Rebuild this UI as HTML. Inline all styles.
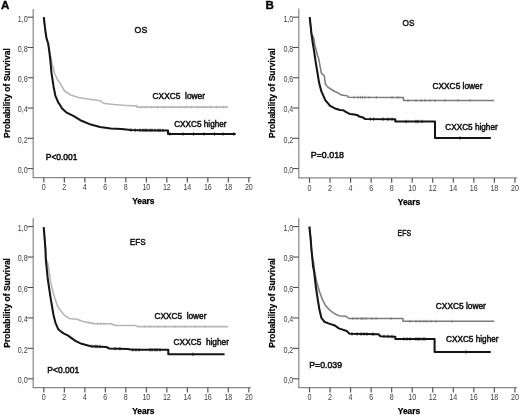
<!DOCTYPE html>
<html><head><meta charset="utf-8"><style>
html,body{margin:0;padding:0;background:#fff;}
svg{display:block;filter:grayscale(1);}
text{font-family:"Liberation Sans", sans-serif;}
.tl{font-size:8.4px;fill:#404040;}
.yr{font-size:8.4px;font-weight:bold;fill:#000;stroke:#000;stroke-width:0.25px;}
.yl{font-size:8.5px;font-weight:bold;fill:#000;stroke:#000;stroke-width:0.2px;}
.an{font-size:9.1px;fill:#111;stroke:#111;stroke-width:0.5px;white-space:pre;}
.ti{font-size:9.7px;}
.pl{font-size:11.6px;font-weight:bold;fill:#000;stroke:#000;stroke-width:0.35px;}
</style></head><body>
<svg width="520" height="415" viewBox="0 0 520 415">
<rect width="520" height="415" fill="#fff"/>
<text x="1.0" y="9.1" class="pl">A</text>
<text x="265.6" y="9.1" class="pl">B</text>
<line x1="33.2" y1="9.0" x2="33.2" y2="177.5" stroke="#8a8a8a" stroke-width="1.25"/>
<line x1="32.6" y1="177.5" x2="251" y2="177.5" stroke="#8a8a8a" stroke-width="1.25"/>
<line x1="27.400000000000002" y1="168.60" x2="33.2" y2="168.60" stroke="#505050" stroke-width="1.1"/>
<text x="27.70" y="173.00" text-anchor="end" class="tl" textLength="9.92" lengthAdjust="spacingAndGlyphs">0,0</text>
<line x1="27.400000000000002" y1="138.32" x2="33.2" y2="138.32" stroke="#505050" stroke-width="1.1"/>
<text x="27.70" y="142.72" text-anchor="end" class="tl" textLength="9.92" lengthAdjust="spacingAndGlyphs">0,2</text>
<line x1="27.400000000000002" y1="108.04" x2="33.2" y2="108.04" stroke="#505050" stroke-width="1.1"/>
<text x="27.70" y="112.44" text-anchor="end" class="tl" textLength="9.92" lengthAdjust="spacingAndGlyphs">0,4</text>
<line x1="27.400000000000002" y1="77.76" x2="33.2" y2="77.76" stroke="#505050" stroke-width="1.1"/>
<text x="27.70" y="82.16" text-anchor="end" class="tl" textLength="9.92" lengthAdjust="spacingAndGlyphs">0,6</text>
<line x1="27.400000000000002" y1="47.48" x2="33.2" y2="47.48" stroke="#505050" stroke-width="1.1"/>
<text x="27.70" y="51.88" text-anchor="end" class="tl" textLength="9.92" lengthAdjust="spacingAndGlyphs">0,8</text>
<line x1="27.400000000000002" y1="17.20" x2="33.2" y2="17.20" stroke="#505050" stroke-width="1.1"/>
<text x="27.70" y="21.60" text-anchor="end" class="tl" textLength="9.92" lengthAdjust="spacingAndGlyphs">1,0</text>
<line x1="43.85" y1="177.5" x2="43.85" y2="182.4" stroke="#505050" stroke-width="1.15"/>
<text x="43.85" y="190.10" text-anchor="middle" class="tl" textLength="3.97" lengthAdjust="spacingAndGlyphs">0</text>
<line x1="64.35" y1="177.5" x2="64.35" y2="182.4" stroke="#505050" stroke-width="1.15"/>
<text x="64.35" y="190.10" text-anchor="middle" class="tl" textLength="3.97" lengthAdjust="spacingAndGlyphs">2</text>
<line x1="84.85" y1="177.5" x2="84.85" y2="182.4" stroke="#505050" stroke-width="1.15"/>
<text x="84.85" y="190.10" text-anchor="middle" class="tl" textLength="3.97" lengthAdjust="spacingAndGlyphs">4</text>
<line x1="105.35" y1="177.5" x2="105.35" y2="182.4" stroke="#505050" stroke-width="1.15"/>
<text x="105.35" y="190.10" text-anchor="middle" class="tl" textLength="3.97" lengthAdjust="spacingAndGlyphs">6</text>
<line x1="125.85" y1="177.5" x2="125.85" y2="182.4" stroke="#505050" stroke-width="1.15"/>
<text x="125.85" y="190.10" text-anchor="middle" class="tl" textLength="3.97" lengthAdjust="spacingAndGlyphs">8</text>
<line x1="146.35" y1="177.5" x2="146.35" y2="182.4" stroke="#505050" stroke-width="1.15"/>
<text x="146.35" y="190.10" text-anchor="middle" class="tl" textLength="7.94" lengthAdjust="spacingAndGlyphs">10</text>
<line x1="166.85" y1="177.5" x2="166.85" y2="182.4" stroke="#505050" stroke-width="1.15"/>
<text x="166.85" y="190.10" text-anchor="middle" class="tl" textLength="7.94" lengthAdjust="spacingAndGlyphs">12</text>
<line x1="187.35" y1="177.5" x2="187.35" y2="182.4" stroke="#505050" stroke-width="1.15"/>
<text x="187.35" y="190.10" text-anchor="middle" class="tl" textLength="7.94" lengthAdjust="spacingAndGlyphs">14</text>
<line x1="207.85" y1="177.5" x2="207.85" y2="182.4" stroke="#505050" stroke-width="1.15"/>
<text x="207.85" y="190.10" text-anchor="middle" class="tl" textLength="7.94" lengthAdjust="spacingAndGlyphs">16</text>
<line x1="228.35" y1="177.5" x2="228.35" y2="182.4" stroke="#505050" stroke-width="1.15"/>
<text x="228.35" y="190.10" text-anchor="middle" class="tl" textLength="7.94" lengthAdjust="spacingAndGlyphs">18</text>
<line x1="248.85" y1="177.5" x2="248.85" y2="182.4" stroke="#505050" stroke-width="1.15"/>
<text x="248.85" y="190.10" text-anchor="middle" class="tl" textLength="7.94" lengthAdjust="spacingAndGlyphs">20</text>
<text x="132.15" y="204.00" class="yr">Years</text>
<text transform="translate(9.60,93.10) rotate(-90)" text-anchor="middle" class="yl">Probability of Survival</text>
<polyline points="43.80,17.20 44.60,24.50 45.50,31.70 46.40,37.70 48.20,43.70 49.10,49.80 50.60,56.40 52.50,65.00 54.40,72.80 57.30,79.50 60.00,83.10 64.60,91.00 70.80,95.00 78.50,97.50 87.70,99.00 100.00,100.80 104.60,103.60 113.80,104.60 126.20,105.40 137.00,105.90 137.00,107.10 228.00,107.10" fill="none" stroke="#b6b6b6" stroke-width="1.55" stroke-linejoin="round"/>
<polyline points="43.80,17.20 44.60,24.50 45.50,31.70 46.40,37.70 48.20,43.70 49.10,49.80 50.00,57.00 51.50,72.80 53.50,86.20 55.40,95.90 58.30,102.50 60.00,104.90 62.10,108.50 66.20,112.30 73.80,116.20 81.50,120.80 90.80,124.60 100.00,126.90 110.80,128.50 121.50,128.90 130.80,130.00 140.00,130.20 168.00,130.50 168.00,134.00 235.70,134.00" fill="none" stroke="#151515" stroke-width="2.05" stroke-linejoin="round"/>
<line x1="136.3" y1="104.37" x2="136.3" y2="107.37" stroke="#b6b6b6" stroke-width="0.8"/>
<line x1="141.6" y1="105.60" x2="141.6" y2="108.60" stroke="#b6b6b6" stroke-width="0.8"/>
<line x1="145.9" y1="105.60" x2="145.9" y2="108.60" stroke="#b6b6b6" stroke-width="0.8"/>
<line x1="151.2" y1="105.60" x2="151.2" y2="108.60" stroke="#b6b6b6" stroke-width="0.8"/>
<line x1="157.5" y1="105.60" x2="157.5" y2="108.60" stroke="#b6b6b6" stroke-width="0.8"/>
<line x1="164.9" y1="105.60" x2="164.9" y2="108.60" stroke="#b6b6b6" stroke-width="0.8"/>
<line x1="172.3" y1="105.60" x2="172.3" y2="108.60" stroke="#b6b6b6" stroke-width="0.8"/>
<line x1="179.7" y1="105.60" x2="179.7" y2="108.60" stroke="#b6b6b6" stroke-width="0.8"/>
<line x1="186" y1="105.60" x2="186" y2="108.60" stroke="#b6b6b6" stroke-width="0.8"/>
<line x1="191.4" y1="105.60" x2="191.4" y2="108.60" stroke="#b6b6b6" stroke-width="0.8"/>
<line x1="197.7" y1="105.60" x2="197.7" y2="108.60" stroke="#b6b6b6" stroke-width="0.8"/>
<line x1="204" y1="105.60" x2="204" y2="108.60" stroke="#b6b6b6" stroke-width="0.8"/>
<line x1="210.4" y1="105.60" x2="210.4" y2="108.60" stroke="#b6b6b6" stroke-width="0.8"/>
<line x1="216.7" y1="105.60" x2="216.7" y2="108.60" stroke="#b6b6b6" stroke-width="0.8"/>
<line x1="223" y1="105.60" x2="223" y2="108.60" stroke="#b6b6b6" stroke-width="0.8"/>
<line x1="131" y1="128.30" x2="131" y2="131.70" stroke="#151515" stroke-width="0.8"/>
<line x1="135" y1="128.39" x2="135" y2="131.79" stroke="#151515" stroke-width="0.8"/>
<line x1="140" y1="128.50" x2="140" y2="131.90" stroke="#151515" stroke-width="0.8"/>
<line x1="143" y1="128.53" x2="143" y2="131.93" stroke="#151515" stroke-width="0.8"/>
<line x1="145" y1="128.55" x2="145" y2="131.95" stroke="#151515" stroke-width="0.8"/>
<line x1="147" y1="128.57" x2="147" y2="131.97" stroke="#151515" stroke-width="0.8"/>
<line x1="150" y1="128.61" x2="150" y2="132.01" stroke="#151515" stroke-width="0.8"/>
<line x1="152" y1="128.63" x2="152" y2="132.03" stroke="#151515" stroke-width="0.8"/>
<line x1="155" y1="128.66" x2="155" y2="132.06" stroke="#151515" stroke-width="0.8"/>
<line x1="158" y1="128.69" x2="158" y2="132.09" stroke="#151515" stroke-width="0.8"/>
<line x1="160" y1="128.71" x2="160" y2="132.11" stroke="#151515" stroke-width="0.8"/>
<line x1="163" y1="128.75" x2="163" y2="132.15" stroke="#151515" stroke-width="0.8"/>
<line x1="170" y1="132.30" x2="170" y2="135.70" stroke="#151515" stroke-width="0.8"/>
<line x1="183" y1="132.30" x2="183" y2="135.70" stroke="#151515" stroke-width="0.8"/>
<line x1="193.5" y1="132.30" x2="193.5" y2="135.70" stroke="#151515" stroke-width="0.8"/>
<line x1="204" y1="132.30" x2="204" y2="135.70" stroke="#151515" stroke-width="0.8"/>
<line x1="214.6" y1="132.30" x2="214.6" y2="135.70" stroke="#151515" stroke-width="0.8"/>
<line x1="223" y1="132.30" x2="223" y2="135.70" stroke="#151515" stroke-width="0.8"/>
<line x1="233.7" y1="132.30" x2="233.7" y2="135.70" stroke="#151515" stroke-width="0.8"/>
<text x="134.6" y="32.8" class="an ti" textLength="12.6" lengthAdjust="spacingAndGlyphs">OS</text>
<text x="152.6" y="98.8" class="an" textLength="52.4" lengthAdjust="spacingAndGlyphs">CXXC5  lower</text>
<text x="174.2" y="126.5" class="an" textLength="52.4" lengthAdjust="spacingAndGlyphs">CXXC5 higher</text>
<text x="45.8" y="160.2" class="an" textLength="31.6" lengthAdjust="spacingAndGlyphs">P&lt;0.001</text>
<line x1="298.8" y1="8.4" x2="298.8" y2="177.9" stroke="#8a8a8a" stroke-width="1.25"/>
<line x1="298.2" y1="177.9" x2="517" y2="177.9" stroke="#8a8a8a" stroke-width="1.25"/>
<line x1="293.0" y1="168.60" x2="298.8" y2="168.60" stroke="#505050" stroke-width="1.1"/>
<text x="293.30" y="173.00" text-anchor="end" class="tl" textLength="9.92" lengthAdjust="spacingAndGlyphs">0,0</text>
<line x1="293.0" y1="138.32" x2="298.8" y2="138.32" stroke="#505050" stroke-width="1.1"/>
<text x="293.30" y="142.72" text-anchor="end" class="tl" textLength="9.92" lengthAdjust="spacingAndGlyphs">0,2</text>
<line x1="293.0" y1="108.04" x2="298.8" y2="108.04" stroke="#505050" stroke-width="1.1"/>
<text x="293.30" y="112.44" text-anchor="end" class="tl" textLength="9.92" lengthAdjust="spacingAndGlyphs">0,4</text>
<line x1="293.0" y1="77.76" x2="298.8" y2="77.76" stroke="#505050" stroke-width="1.1"/>
<text x="293.30" y="82.16" text-anchor="end" class="tl" textLength="9.92" lengthAdjust="spacingAndGlyphs">0,6</text>
<line x1="293.0" y1="47.48" x2="298.8" y2="47.48" stroke="#505050" stroke-width="1.1"/>
<text x="293.30" y="51.88" text-anchor="end" class="tl" textLength="9.92" lengthAdjust="spacingAndGlyphs">0,8</text>
<line x1="293.0" y1="17.20" x2="298.8" y2="17.20" stroke="#505050" stroke-width="1.1"/>
<text x="293.30" y="21.60" text-anchor="end" class="tl" textLength="9.92" lengthAdjust="spacingAndGlyphs">1,0</text>
<line x1="309.50" y1="177.9" x2="309.50" y2="182.8" stroke="#505050" stroke-width="1.15"/>
<text x="309.50" y="190.50" text-anchor="middle" class="tl" textLength="3.97" lengthAdjust="spacingAndGlyphs">0</text>
<line x1="330.04" y1="177.9" x2="330.04" y2="182.8" stroke="#505050" stroke-width="1.15"/>
<text x="330.04" y="190.50" text-anchor="middle" class="tl" textLength="3.97" lengthAdjust="spacingAndGlyphs">2</text>
<line x1="350.58" y1="177.9" x2="350.58" y2="182.8" stroke="#505050" stroke-width="1.15"/>
<text x="350.58" y="190.50" text-anchor="middle" class="tl" textLength="3.97" lengthAdjust="spacingAndGlyphs">4</text>
<line x1="371.12" y1="177.9" x2="371.12" y2="182.8" stroke="#505050" stroke-width="1.15"/>
<text x="371.12" y="190.50" text-anchor="middle" class="tl" textLength="3.97" lengthAdjust="spacingAndGlyphs">6</text>
<line x1="391.66" y1="177.9" x2="391.66" y2="182.8" stroke="#505050" stroke-width="1.15"/>
<text x="391.66" y="190.50" text-anchor="middle" class="tl" textLength="3.97" lengthAdjust="spacingAndGlyphs">8</text>
<line x1="412.20" y1="177.9" x2="412.20" y2="182.8" stroke="#505050" stroke-width="1.15"/>
<text x="412.20" y="190.50" text-anchor="middle" class="tl" textLength="7.94" lengthAdjust="spacingAndGlyphs">10</text>
<line x1="432.74" y1="177.9" x2="432.74" y2="182.8" stroke="#505050" stroke-width="1.15"/>
<text x="432.74" y="190.50" text-anchor="middle" class="tl" textLength="7.94" lengthAdjust="spacingAndGlyphs">12</text>
<line x1="453.28" y1="177.9" x2="453.28" y2="182.8" stroke="#505050" stroke-width="1.15"/>
<text x="453.28" y="190.50" text-anchor="middle" class="tl" textLength="7.94" lengthAdjust="spacingAndGlyphs">14</text>
<line x1="473.82" y1="177.9" x2="473.82" y2="182.8" stroke="#505050" stroke-width="1.15"/>
<text x="473.82" y="190.50" text-anchor="middle" class="tl" textLength="7.94" lengthAdjust="spacingAndGlyphs">16</text>
<line x1="494.36" y1="177.9" x2="494.36" y2="182.8" stroke="#505050" stroke-width="1.15"/>
<text x="494.36" y="190.50" text-anchor="middle" class="tl" textLength="7.94" lengthAdjust="spacingAndGlyphs">18</text>
<line x1="514.90" y1="177.9" x2="514.90" y2="182.8" stroke="#505050" stroke-width="1.15"/>
<text x="514.90" y="190.50" text-anchor="middle" class="tl" textLength="7.94" lengthAdjust="spacingAndGlyphs">20</text>
<text x="397.80" y="205.10" class="yr">Years</text>
<text transform="translate(275.20,93.10) rotate(-90)" text-anchor="middle" class="yl">Probability of Survival</text>
<polyline points="309.70,17.20 310.60,25.70 311.50,34.10 312.40,35.30 313.90,38.90 314.80,44.90 316.00,49.80 317.90,57.00 318.50,57.70 319.90,65.40 321.40,73.10 324.30,76.00 325.30,83.70 327.20,86.60 333.00,90.50 338.80,93.40 340.00,94.20 341.70,95.10 347.60,95.90 348.40,97.30 403.50,97.50 403.50,100.50 494.20,100.50" fill="none" stroke="#7c7c7c" stroke-width="1.55" stroke-linejoin="round"/>
<polyline points="309.70,17.20 310.60,25.70 311.50,34.10 312.70,42.50 313.90,49.80 315.10,58.20 315.60,61.60 317.20,71.20 319.10,82.80 321.40,91.40 325.30,100.10 330.10,105.90 335.90,108.80 340.00,110.10 343.40,110.30 345.10,111.50 347.60,112.80 350.10,114.00 354.30,114.50 356.90,114.90 359.40,116.60 362.80,117.40 365.30,119.10 395.30,119.20 395.30,121.50 435.00,121.50 435.00,137.90 490.80,137.90" fill="none" stroke="#151515" stroke-width="2.05" stroke-linejoin="round"/>
<line x1="353.9" y1="95.82" x2="353.9" y2="98.82" stroke="#7c7c7c" stroke-width="0.8"/>
<line x1="357.7" y1="95.83" x2="357.7" y2="98.83" stroke="#7c7c7c" stroke-width="0.8"/>
<line x1="360.3" y1="95.84" x2="360.3" y2="98.84" stroke="#7c7c7c" stroke-width="0.8"/>
<line x1="362.4" y1="95.85" x2="362.4" y2="98.85" stroke="#7c7c7c" stroke-width="0.8"/>
<line x1="364.9" y1="95.86" x2="364.9" y2="98.86" stroke="#7c7c7c" stroke-width="0.8"/>
<line x1="369" y1="95.87" x2="369" y2="98.87" stroke="#7c7c7c" stroke-width="0.8"/>
<line x1="376.3" y1="95.90" x2="376.3" y2="98.90" stroke="#7c7c7c" stroke-width="0.8"/>
<line x1="392" y1="95.96" x2="392" y2="98.96" stroke="#7c7c7c" stroke-width="0.8"/>
<line x1="398" y1="95.98" x2="398" y2="98.98" stroke="#7c7c7c" stroke-width="0.8"/>
<line x1="408" y1="99.00" x2="408" y2="102.00" stroke="#7c7c7c" stroke-width="0.8"/>
<line x1="416" y1="99.00" x2="416" y2="102.00" stroke="#7c7c7c" stroke-width="0.8"/>
<line x1="421" y1="99.00" x2="421" y2="102.00" stroke="#7c7c7c" stroke-width="0.8"/>
<line x1="425" y1="99.00" x2="425" y2="102.00" stroke="#7c7c7c" stroke-width="0.8"/>
<line x1="430" y1="99.00" x2="430" y2="102.00" stroke="#7c7c7c" stroke-width="0.8"/>
<line x1="435" y1="99.00" x2="435" y2="102.00" stroke="#7c7c7c" stroke-width="0.8"/>
<line x1="445" y1="99.00" x2="445" y2="102.00" stroke="#7c7c7c" stroke-width="0.8"/>
<line x1="458" y1="99.00" x2="458" y2="102.00" stroke="#7c7c7c" stroke-width="0.8"/>
<line x1="470" y1="99.00" x2="470" y2="102.00" stroke="#7c7c7c" stroke-width="0.8"/>
<line x1="370.4" y1="117.42" x2="370.4" y2="120.82" stroke="#151515" stroke-width="0.8"/>
<line x1="373.8" y1="117.43" x2="373.8" y2="120.83" stroke="#151515" stroke-width="0.8"/>
<line x1="383" y1="117.46" x2="383" y2="120.86" stroke="#151515" stroke-width="0.8"/>
<line x1="388" y1="117.48" x2="388" y2="120.88" stroke="#151515" stroke-width="0.8"/>
<line x1="392" y1="117.49" x2="392" y2="120.89" stroke="#151515" stroke-width="0.8"/>
<line x1="406" y1="119.80" x2="406" y2="123.20" stroke="#151515" stroke-width="0.8"/>
<line x1="416" y1="119.80" x2="416" y2="123.20" stroke="#151515" stroke-width="0.8"/>
<line x1="418" y1="119.80" x2="418" y2="123.20" stroke="#151515" stroke-width="0.8"/>
<line x1="422" y1="119.80" x2="422" y2="123.20" stroke="#151515" stroke-width="0.8"/>
<line x1="460" y1="136.20" x2="460" y2="139.60" stroke="#151515" stroke-width="0.8"/>
<text x="402.6" y="25.6" class="an ti" textLength="11.8" lengthAdjust="spacingAndGlyphs">OS</text>
<text x="432.5" y="88.5" class="an" textLength="50.0" lengthAdjust="spacingAndGlyphs">CXXC5 lower</text>
<text x="445.3" y="129.6" class="an" textLength="52.4" lengthAdjust="spacingAndGlyphs">CXXC5 higher</text>
<text x="310.8" y="158.3" class="an" textLength="33.2" lengthAdjust="spacingAndGlyphs">P=0.018</text>
<line x1="33.2" y1="218.3" x2="33.2" y2="387.5" stroke="#8a8a8a" stroke-width="1.25"/>
<line x1="32.6" y1="387.5" x2="251" y2="387.5" stroke="#8a8a8a" stroke-width="1.25"/>
<line x1="27.400000000000002" y1="378.80" x2="33.2" y2="378.80" stroke="#505050" stroke-width="1.1"/>
<text x="27.70" y="383.20" text-anchor="end" class="tl" textLength="9.92" lengthAdjust="spacingAndGlyphs">0,0</text>
<line x1="27.400000000000002" y1="348.36" x2="33.2" y2="348.36" stroke="#505050" stroke-width="1.1"/>
<text x="27.70" y="352.76" text-anchor="end" class="tl" textLength="9.92" lengthAdjust="spacingAndGlyphs">0,2</text>
<line x1="27.400000000000002" y1="317.92" x2="33.2" y2="317.92" stroke="#505050" stroke-width="1.1"/>
<text x="27.70" y="322.32" text-anchor="end" class="tl" textLength="9.92" lengthAdjust="spacingAndGlyphs">0,4</text>
<line x1="27.400000000000002" y1="287.48" x2="33.2" y2="287.48" stroke="#505050" stroke-width="1.1"/>
<text x="27.70" y="291.88" text-anchor="end" class="tl" textLength="9.92" lengthAdjust="spacingAndGlyphs">0,6</text>
<line x1="27.400000000000002" y1="257.04" x2="33.2" y2="257.04" stroke="#505050" stroke-width="1.1"/>
<text x="27.70" y="261.44" text-anchor="end" class="tl" textLength="9.92" lengthAdjust="spacingAndGlyphs">0,8</text>
<line x1="27.400000000000002" y1="226.60" x2="33.2" y2="226.60" stroke="#505050" stroke-width="1.1"/>
<text x="27.70" y="231.00" text-anchor="end" class="tl" textLength="9.92" lengthAdjust="spacingAndGlyphs">1,0</text>
<line x1="43.85" y1="387.5" x2="43.85" y2="392.4" stroke="#505050" stroke-width="1.15"/>
<text x="43.85" y="400.10" text-anchor="middle" class="tl" textLength="3.97" lengthAdjust="spacingAndGlyphs">0</text>
<line x1="64.35" y1="387.5" x2="64.35" y2="392.4" stroke="#505050" stroke-width="1.15"/>
<text x="64.35" y="400.10" text-anchor="middle" class="tl" textLength="3.97" lengthAdjust="spacingAndGlyphs">2</text>
<line x1="84.85" y1="387.5" x2="84.85" y2="392.4" stroke="#505050" stroke-width="1.15"/>
<text x="84.85" y="400.10" text-anchor="middle" class="tl" textLength="3.97" lengthAdjust="spacingAndGlyphs">4</text>
<line x1="105.35" y1="387.5" x2="105.35" y2="392.4" stroke="#505050" stroke-width="1.15"/>
<text x="105.35" y="400.10" text-anchor="middle" class="tl" textLength="3.97" lengthAdjust="spacingAndGlyphs">6</text>
<line x1="125.85" y1="387.5" x2="125.85" y2="392.4" stroke="#505050" stroke-width="1.15"/>
<text x="125.85" y="400.10" text-anchor="middle" class="tl" textLength="3.97" lengthAdjust="spacingAndGlyphs">8</text>
<line x1="146.35" y1="387.5" x2="146.35" y2="392.4" stroke="#505050" stroke-width="1.15"/>
<text x="146.35" y="400.10" text-anchor="middle" class="tl" textLength="7.94" lengthAdjust="spacingAndGlyphs">10</text>
<line x1="166.85" y1="387.5" x2="166.85" y2="392.4" stroke="#505050" stroke-width="1.15"/>
<text x="166.85" y="400.10" text-anchor="middle" class="tl" textLength="7.94" lengthAdjust="spacingAndGlyphs">12</text>
<line x1="187.35" y1="387.5" x2="187.35" y2="392.4" stroke="#505050" stroke-width="1.15"/>
<text x="187.35" y="400.10" text-anchor="middle" class="tl" textLength="7.94" lengthAdjust="spacingAndGlyphs">14</text>
<line x1="207.85" y1="387.5" x2="207.85" y2="392.4" stroke="#505050" stroke-width="1.15"/>
<text x="207.85" y="400.10" text-anchor="middle" class="tl" textLength="7.94" lengthAdjust="spacingAndGlyphs">16</text>
<line x1="228.35" y1="387.5" x2="228.35" y2="392.4" stroke="#505050" stroke-width="1.15"/>
<text x="228.35" y="400.10" text-anchor="middle" class="tl" textLength="7.94" lengthAdjust="spacingAndGlyphs">18</text>
<line x1="248.85" y1="387.5" x2="248.85" y2="392.4" stroke="#505050" stroke-width="1.15"/>
<text x="248.85" y="400.10" text-anchor="middle" class="tl" textLength="7.94" lengthAdjust="spacingAndGlyphs">20</text>
<text x="132.15" y="414.00" class="yr">Years</text>
<text transform="translate(9.60,302.90) rotate(-90)" text-anchor="middle" class="yl">Probability of Survival</text>
<polyline points="43.70,227.20 44.60,238.10 45.50,250.10 46.40,259.80 47.70,263.00 49.20,272.00 50.60,282.40 53.50,294.00 57.30,305.50 60.00,310.00 64.60,315.40 69.20,318.50 76.90,319.20 83.00,321.50 90.80,323.00 95.40,323.80 110.80,323.80 115.40,325.40 135.40,325.40 137.50,326.60 228.00,326.60" fill="none" stroke="#b6b6b6" stroke-width="1.55" stroke-linejoin="round"/>
<polyline points="43.70,227.20 44.60,238.10 45.50,250.10 45.80,259.20 47.70,278.50 50.60,297.80 53.50,315.00 55.40,322.60 58.30,329.30 60.00,330.80 63.50,333.40 67.70,335.40 75.40,340.80 81.50,343.80 90.80,346.20 106.20,346.90 109.20,348.50 127.70,348.90 132.30,349.80 168.30,349.80 168.30,354.30 224.60,354.30" fill="none" stroke="#151515" stroke-width="2.05" stroke-linejoin="round"/>
<line x1="88" y1="320.96" x2="88" y2="323.96" stroke="#b6b6b6" stroke-width="0.8"/>
<line x1="90" y1="321.35" x2="90" y2="324.35" stroke="#b6b6b6" stroke-width="0.8"/>
<line x1="93" y1="321.88" x2="93" y2="324.88" stroke="#b6b6b6" stroke-width="0.8"/>
<line x1="98" y1="322.30" x2="98" y2="325.30" stroke="#b6b6b6" stroke-width="0.8"/>
<line x1="101" y1="322.30" x2="101" y2="325.30" stroke="#b6b6b6" stroke-width="0.8"/>
<line x1="104" y1="322.30" x2="104" y2="325.30" stroke="#b6b6b6" stroke-width="0.8"/>
<line x1="145" y1="325.10" x2="145" y2="328.10" stroke="#b6b6b6" stroke-width="0.8"/>
<line x1="150" y1="325.10" x2="150" y2="328.10" stroke="#b6b6b6" stroke-width="0.8"/>
<line x1="158" y1="325.10" x2="158" y2="328.10" stroke="#b6b6b6" stroke-width="0.8"/>
<line x1="165" y1="325.10" x2="165" y2="328.10" stroke="#b6b6b6" stroke-width="0.8"/>
<line x1="175" y1="325.10" x2="175" y2="328.10" stroke="#b6b6b6" stroke-width="0.8"/>
<line x1="185" y1="325.10" x2="185" y2="328.10" stroke="#b6b6b6" stroke-width="0.8"/>
<line x1="195" y1="325.10" x2="195" y2="328.10" stroke="#b6b6b6" stroke-width="0.8"/>
<line x1="205" y1="325.10" x2="205" y2="328.10" stroke="#b6b6b6" stroke-width="0.8"/>
<line x1="92" y1="344.55" x2="92" y2="347.95" stroke="#151515" stroke-width="0.8"/>
<line x1="95" y1="344.69" x2="95" y2="348.09" stroke="#151515" stroke-width="0.8"/>
<line x1="97" y1="344.78" x2="97" y2="348.18" stroke="#151515" stroke-width="0.8"/>
<line x1="100" y1="344.92" x2="100" y2="348.32" stroke="#151515" stroke-width="0.8"/>
<line x1="115" y1="346.93" x2="115" y2="350.33" stroke="#151515" stroke-width="0.8"/>
<line x1="120" y1="347.03" x2="120" y2="350.43" stroke="#151515" stroke-width="0.8"/>
<line x1="133" y1="348.10" x2="133" y2="351.50" stroke="#151515" stroke-width="0.8"/>
<line x1="136" y1="348.10" x2="136" y2="351.50" stroke="#151515" stroke-width="0.8"/>
<line x1="139" y1="348.10" x2="139" y2="351.50" stroke="#151515" stroke-width="0.8"/>
<line x1="150" y1="348.10" x2="150" y2="351.50" stroke="#151515" stroke-width="0.8"/>
<line x1="152" y1="348.10" x2="152" y2="351.50" stroke="#151515" stroke-width="0.8"/>
<line x1="155" y1="348.10" x2="155" y2="351.50" stroke="#151515" stroke-width="0.8"/>
<line x1="157" y1="348.10" x2="157" y2="351.50" stroke="#151515" stroke-width="0.8"/>
<line x1="160" y1="348.10" x2="160" y2="351.50" stroke="#151515" stroke-width="0.8"/>
<line x1="193" y1="352.60" x2="193" y2="356.00" stroke="#151515" stroke-width="0.8"/>
<text x="129.8" y="244.6" class="an ti" textLength="15.8" lengthAdjust="spacingAndGlyphs">EFS</text>
<text x="154.5" y="319.2" class="an" textLength="51.9" lengthAdjust="spacingAndGlyphs">CXXC5  lower</text>
<text x="173.6" y="345.1" class="an" textLength="55.4" lengthAdjust="spacingAndGlyphs">CXXC5  higher</text>
<text x="47.3" y="372.5" class="an" textLength="31.9" lengthAdjust="spacingAndGlyphs">P&lt;0.001</text>
<line x1="298.8" y1="218.2" x2="298.8" y2="387.5" stroke="#8a8a8a" stroke-width="1.25"/>
<line x1="298.2" y1="387.5" x2="517" y2="387.5" stroke="#8a8a8a" stroke-width="1.25"/>
<line x1="293.0" y1="378.80" x2="298.8" y2="378.80" stroke="#505050" stroke-width="1.1"/>
<text x="293.30" y="383.20" text-anchor="end" class="tl" textLength="9.92" lengthAdjust="spacingAndGlyphs">0,0</text>
<line x1="293.0" y1="348.36" x2="298.8" y2="348.36" stroke="#505050" stroke-width="1.1"/>
<text x="293.30" y="352.76" text-anchor="end" class="tl" textLength="9.92" lengthAdjust="spacingAndGlyphs">0,2</text>
<line x1="293.0" y1="317.92" x2="298.8" y2="317.92" stroke="#505050" stroke-width="1.1"/>
<text x="293.30" y="322.32" text-anchor="end" class="tl" textLength="9.92" lengthAdjust="spacingAndGlyphs">0,4</text>
<line x1="293.0" y1="287.48" x2="298.8" y2="287.48" stroke="#505050" stroke-width="1.1"/>
<text x="293.30" y="291.88" text-anchor="end" class="tl" textLength="9.92" lengthAdjust="spacingAndGlyphs">0,6</text>
<line x1="293.0" y1="257.04" x2="298.8" y2="257.04" stroke="#505050" stroke-width="1.1"/>
<text x="293.30" y="261.44" text-anchor="end" class="tl" textLength="9.92" lengthAdjust="spacingAndGlyphs">0,8</text>
<line x1="293.0" y1="226.60" x2="298.8" y2="226.60" stroke="#505050" stroke-width="1.1"/>
<text x="293.30" y="231.00" text-anchor="end" class="tl" textLength="9.92" lengthAdjust="spacingAndGlyphs">1,0</text>
<line x1="309.50" y1="387.5" x2="309.50" y2="392.4" stroke="#505050" stroke-width="1.15"/>
<text x="309.50" y="400.10" text-anchor="middle" class="tl" textLength="3.97" lengthAdjust="spacingAndGlyphs">0</text>
<line x1="330.04" y1="387.5" x2="330.04" y2="392.4" stroke="#505050" stroke-width="1.15"/>
<text x="330.04" y="400.10" text-anchor="middle" class="tl" textLength="3.97" lengthAdjust="spacingAndGlyphs">2</text>
<line x1="350.58" y1="387.5" x2="350.58" y2="392.4" stroke="#505050" stroke-width="1.15"/>
<text x="350.58" y="400.10" text-anchor="middle" class="tl" textLength="3.97" lengthAdjust="spacingAndGlyphs">4</text>
<line x1="371.12" y1="387.5" x2="371.12" y2="392.4" stroke="#505050" stroke-width="1.15"/>
<text x="371.12" y="400.10" text-anchor="middle" class="tl" textLength="3.97" lengthAdjust="spacingAndGlyphs">6</text>
<line x1="391.66" y1="387.5" x2="391.66" y2="392.4" stroke="#505050" stroke-width="1.15"/>
<text x="391.66" y="400.10" text-anchor="middle" class="tl" textLength="3.97" lengthAdjust="spacingAndGlyphs">8</text>
<line x1="412.20" y1="387.5" x2="412.20" y2="392.4" stroke="#505050" stroke-width="1.15"/>
<text x="412.20" y="400.10" text-anchor="middle" class="tl" textLength="7.94" lengthAdjust="spacingAndGlyphs">10</text>
<line x1="432.74" y1="387.5" x2="432.74" y2="392.4" stroke="#505050" stroke-width="1.15"/>
<text x="432.74" y="400.10" text-anchor="middle" class="tl" textLength="7.94" lengthAdjust="spacingAndGlyphs">12</text>
<line x1="453.28" y1="387.5" x2="453.28" y2="392.4" stroke="#505050" stroke-width="1.15"/>
<text x="453.28" y="400.10" text-anchor="middle" class="tl" textLength="7.94" lengthAdjust="spacingAndGlyphs">14</text>
<line x1="473.82" y1="387.5" x2="473.82" y2="392.4" stroke="#505050" stroke-width="1.15"/>
<text x="473.82" y="400.10" text-anchor="middle" class="tl" textLength="7.94" lengthAdjust="spacingAndGlyphs">16</text>
<line x1="494.36" y1="387.5" x2="494.36" y2="392.4" stroke="#505050" stroke-width="1.15"/>
<text x="494.36" y="400.10" text-anchor="middle" class="tl" textLength="7.94" lengthAdjust="spacingAndGlyphs">18</text>
<line x1="514.90" y1="387.5" x2="514.90" y2="392.4" stroke="#505050" stroke-width="1.15"/>
<text x="514.90" y="400.10" text-anchor="middle" class="tl" textLength="7.94" lengthAdjust="spacingAndGlyphs">20</text>
<text x="397.80" y="414.30" class="yr">Years</text>
<text transform="translate(275.20,302.90) rotate(-90)" text-anchor="middle" class="yl">Probability of Survival</text>
<polyline points="309.40,226.60 310.60,238.10 311.50,250.10 312.40,258.60 313.60,262.20 314.70,272.50 316.60,281.50 319.50,291.80 322.40,299.50 325.30,305.20 329.10,309.60 334.90,314.00 339.70,315.90 345.80,316.20 348.70,318.50 403.00,318.50 403.00,321.30 494.20,321.30" fill="none" stroke="#7c7c7c" stroke-width="1.55" stroke-linejoin="round"/>
<polyline points="309.40,226.60 310.60,238.10 311.50,250.10 312.40,258.60 313.00,266.00 314.10,271.60 315.60,285.00 317.60,298.50 319.50,310.10 321.40,317.80 324.30,321.70 329.10,323.60 334.90,325.50 338.80,328.40 346.70,331.00 349.60,333.80 378.50,334.20 380.40,336.20 395.30,336.70 395.30,339.00 434.60,339.00 434.60,352.00 490.80,352.00" fill="none" stroke="#151515" stroke-width="2.05" stroke-linejoin="round"/>
<line x1="353" y1="317.00" x2="353" y2="320.00" stroke="#7c7c7c" stroke-width="0.8"/>
<line x1="357" y1="317.00" x2="357" y2="320.00" stroke="#7c7c7c" stroke-width="0.8"/>
<line x1="361" y1="317.00" x2="361" y2="320.00" stroke="#7c7c7c" stroke-width="0.8"/>
<line x1="363" y1="317.00" x2="363" y2="320.00" stroke="#7c7c7c" stroke-width="0.8"/>
<line x1="366" y1="317.00" x2="366" y2="320.00" stroke="#7c7c7c" stroke-width="0.8"/>
<line x1="372" y1="317.00" x2="372" y2="320.00" stroke="#7c7c7c" stroke-width="0.8"/>
<line x1="376" y1="317.00" x2="376" y2="320.00" stroke="#7c7c7c" stroke-width="0.8"/>
<line x1="391" y1="317.00" x2="391" y2="320.00" stroke="#7c7c7c" stroke-width="0.8"/>
<line x1="410" y1="319.80" x2="410" y2="322.80" stroke="#7c7c7c" stroke-width="0.8"/>
<line x1="416" y1="319.80" x2="416" y2="322.80" stroke="#7c7c7c" stroke-width="0.8"/>
<line x1="420" y1="319.80" x2="420" y2="322.80" stroke="#7c7c7c" stroke-width="0.8"/>
<line x1="424" y1="319.80" x2="424" y2="322.80" stroke="#7c7c7c" stroke-width="0.8"/>
<line x1="427" y1="319.80" x2="427" y2="322.80" stroke="#7c7c7c" stroke-width="0.8"/>
<line x1="431" y1="319.80" x2="431" y2="322.80" stroke="#7c7c7c" stroke-width="0.8"/>
<line x1="436" y1="319.80" x2="436" y2="322.80" stroke="#7c7c7c" stroke-width="0.8"/>
<line x1="452" y1="319.80" x2="452" y2="322.80" stroke="#7c7c7c" stroke-width="0.8"/>
<line x1="352" y1="332.13" x2="352" y2="335.53" stroke="#151515" stroke-width="0.8"/>
<line x1="357" y1="332.20" x2="357" y2="335.60" stroke="#151515" stroke-width="0.8"/>
<line x1="361" y1="332.26" x2="361" y2="335.66" stroke="#151515" stroke-width="0.8"/>
<line x1="364" y1="332.30" x2="364" y2="335.70" stroke="#151515" stroke-width="0.8"/>
<line x1="367" y1="332.34" x2="367" y2="335.74" stroke="#151515" stroke-width="0.8"/>
<line x1="373" y1="332.42" x2="373" y2="335.82" stroke="#151515" stroke-width="0.8"/>
<line x1="384" y1="334.62" x2="384" y2="338.02" stroke="#151515" stroke-width="0.8"/>
<line x1="388" y1="334.76" x2="388" y2="338.16" stroke="#151515" stroke-width="0.8"/>
<line x1="392" y1="334.89" x2="392" y2="338.29" stroke="#151515" stroke-width="0.8"/>
<line x1="404" y1="337.30" x2="404" y2="340.70" stroke="#151515" stroke-width="0.8"/>
<line x1="407" y1="337.30" x2="407" y2="340.70" stroke="#151515" stroke-width="0.8"/>
<line x1="410" y1="337.30" x2="410" y2="340.70" stroke="#151515" stroke-width="0.8"/>
<line x1="416" y1="337.30" x2="416" y2="340.70" stroke="#151515" stroke-width="0.8"/>
<line x1="418" y1="337.30" x2="418" y2="340.70" stroke="#151515" stroke-width="0.8"/>
<line x1="420" y1="337.30" x2="420" y2="340.70" stroke="#151515" stroke-width="0.8"/>
<line x1="423" y1="337.30" x2="423" y2="340.70" stroke="#151515" stroke-width="0.8"/>
<line x1="425" y1="337.30" x2="425" y2="340.70" stroke="#151515" stroke-width="0.8"/>
<line x1="466" y1="350.30" x2="466" y2="353.70" stroke="#151515" stroke-width="0.8"/>
<text x="397.6" y="235.6" class="an ti" textLength="13.4" lengthAdjust="spacingAndGlyphs">EFS</text>
<text x="435.8" y="309.3" class="an" textLength="50.1" lengthAdjust="spacingAndGlyphs">CXXC5 lower</text>
<text x="446.0" y="341.8" class="an" textLength="52.6" lengthAdjust="spacingAndGlyphs">CXXC5 higher</text>
<text x="309.3" y="368.3" class="an" textLength="32.7" lengthAdjust="spacingAndGlyphs">P=0.039</text>
</svg>
</body></html>
